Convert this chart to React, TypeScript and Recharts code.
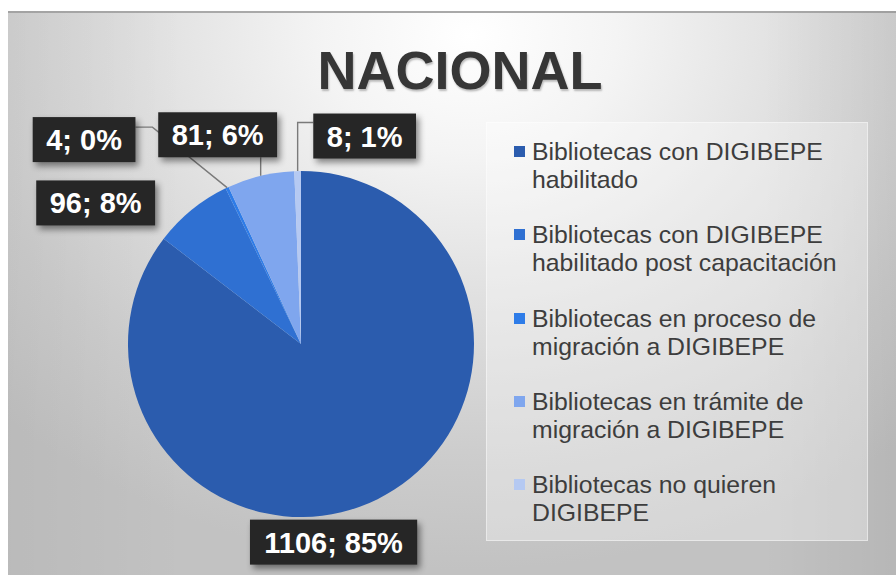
import { Cell, Legend, Pie, PieChart } from "recharts";

const CATEGORIES = [
	"Bibliotecas con DIGIBEPE habilitado",
	"Bibliotecas con DIGIBEPE habilitado post capacitación",
	"Bibliotecas en proceso de migración a DIGIBEPE",
	"Bibliotecas en trámite de migración a DIGIBEPE",
	"Bibliotecas no quieren DIGIBEPE",
];
const COUNTS = [1106, 96, 4, 81, 8];
const PERCENTS = [85, 8, 0, 6, 1];
const COLORS = ["#2B5CAE", "#2F70D2", "#2E7CE8", "#7FA6EE", "#B5C9F2"];

// where each data label sits relative to its slice's outer edge
const LABEL_LAYOUT = [
	{ dx: -44, dy: 43, leader: "none" },
	{ dx: -96, dy: -7, leader: "none" },
	{ dx: -143, dy: -48, leader: "right" },
	{ dx: -43, dy: -41, leader: "bottom" },
	{ dx: 67, dy: -35, leader: "left" },
];

const FONT = "'Liberation Sans', Arial, sans-serif";

// Arial bold advance widths (em) for the label characters
const BOLD_W: Record<string, number> = { ";": 0.333, " ": 0.278, "%": 0.889 };
const textWidth = (s: string, size: number) =>
	s.split("").reduce((w, ch) => w + (BOLD_W[ch] ?? 0.556), 0) * size;

const data = CATEGORIES.map((name, i) => ({
	name,
	value: COUNTS[i],
	pct: PERCENTS[i],
}));

const renderLabel = (props: any) => {
	const { cx, cy, midAngle, outerRadius, index } = props;
	const rad = Math.PI / 180;
	const px = cx + outerRadius * Math.cos(-midAngle * rad);
	const py = cy + outerRadius * Math.sin(-midAngle * rad);
	const lay = LABEL_LAYOUT[index];
	const text = `${COUNTS[index]}; ${PERCENTS[index]}%`;
	const w = textWidth(text, 29) + 27;
	const h = 45;
	const bx = px + lay.dx - w / 2;
	const by = py + lay.dy - h / 2;

	let points = "";
	if (lay.leader === "right") {
		const ay = by + 10;
		points = `${bx + w},${ay} ${bx + w + 17},${ay} ${px},${py}`;
	} else if (lay.leader === "left") {
		const ay = by + 9;
		points = `${bx},${ay} ${px},${ay} ${px},${py}`;
	} else if (lay.leader === "bottom") {
		points = `${px},${by + h} ${px},${py}`;
	}

	return (
		<g key={`lbl-${index}`}>
			{points && (
				<polyline
					fill="none"
					points={points}
					stroke="#7a7a7a"
					strokeWidth={1.4}
				/>
			)}
			<rect
				fill="#262626"
				height={h}
				style={{ filter: "drop-shadow(3px 4px 3px rgba(0,0,0,0.45))" }}
				width={w}
				x={bx}
				y={by}
			/>
			<text
				fill="#ffffff"
				fontFamily={FONT}
				fontSize={29}
				fontWeight="bold"
				textAnchor="middle"
				x={bx + w / 2}
				y={by + h / 2 + 10.5}
			>
				{text}
			</text>
		</g>
	);
};

const renderLegend = (props: any) => {
	const items = props.payload ?? [];
	return (
		<div style={{ position: "relative", width: "100%", height: "100%" }}>
			{items.map((entry: any, i: number) => (
				<div
					key={`leg-${i}`}
					style={{
						position: "absolute",
						left: 46,
						top: 16 + i * 83.3,
						width: 328,
						fontFamily: FONT,
						fontSize: 24.8,
						lineHeight: "28px",
						color: "#3d3d3d",
					}}
				>
					<span
						style={{
							position: "absolute",
							left: -18,
							top: 8,
							width: 11,
							height: 11,
							background: COLORS[i],
						}}
					/>
					{entry.value}
				</div>
			))}
		</div>
	);
};

export default function App() {
	return (
		<div
			style={{
				position: "relative",
				width: 896,
				height: 575,
				background: "#ffffff",
				overflow: "hidden",
			}}
		>
			<style>{"body{margin:0;overflow:hidden}"}</style>
			<div
				style={{
					position: "absolute",
					left: 8,
					top: 11,
					width: 888,
					height: 564,
					borderTop: "2px solid #a9a9a9",
					boxSizing: "border-box",
					background:
						"radial-gradient(ellipse 75% 95% at 52% 4%, #ffffff 0%, #f4f4f4 22%, #dedede 52%, #cdcdcd 78%, #c2c2c2 100%)",
				}}
			/>
			<div
				style={{
					position: "absolute",
					left: 8,
					top: 11,
					width: 888,
					height: 564,
					background:
						"linear-gradient(90deg, rgba(0,0,0,0.04) 0%, rgba(0,0,0,0) 20%, rgba(0,0,0,0) 85%, rgba(0,0,0,0.06) 100%)",
				}}
			/>
			<div
				style={{
					position: "absolute",
					left: 486,
					top: 122,
					width: 382,
					height: 419,
					background: "rgba(255,255,255,0.32)",
					border: "1px solid rgba(255,255,255,0.45)",
					boxSizing: "border-box",
				}}
			/>
			<div
				style={{
					position: "absolute",
					left: 260,
					top: 43,
					width: 400,
					textAlign: "center",
					fontFamily: FONT,
					fontSize: 54,
					lineHeight: "54px",
					fontWeight: "bold",
					color: "#363636",
					textShadow: "1px 2px 2px rgba(0,0,0,0.25)",
				}}
			>
				NACIONAL
			</div>
			<div style={{ position: "absolute", left: 0, top: 0 }}>
				<PieChart
					height={575}
					margin={{ top: 0, right: 0, bottom: 0, left: 0 }}
					width={896}
				>
					<Pie
						cx={301}
						cy={344}
						data={data}
						dataKey="value"
						endAngle={-270}
						isAnimationActive={false}
						label={renderLabel}
						labelLine={false}
						nameKey="name"
						outerRadius={173}
						startAngle={90}
						stroke="none"
					>
						{data.map((d, i) => (
							<Cell fill={COLORS[i]} key={`cell-${d.name}`} />
						))}
					</Pie>
					<Legend
						content={renderLegend}
						layout="vertical"
						verticalAlign="top"
						align="right"
						wrapperStyle={{
							position: "absolute",
							left: 486,
							top: 122,
							width: 382,
							height: 419,
						}}
					/>
				</PieChart>
			</div>
		</div>
	);
}
